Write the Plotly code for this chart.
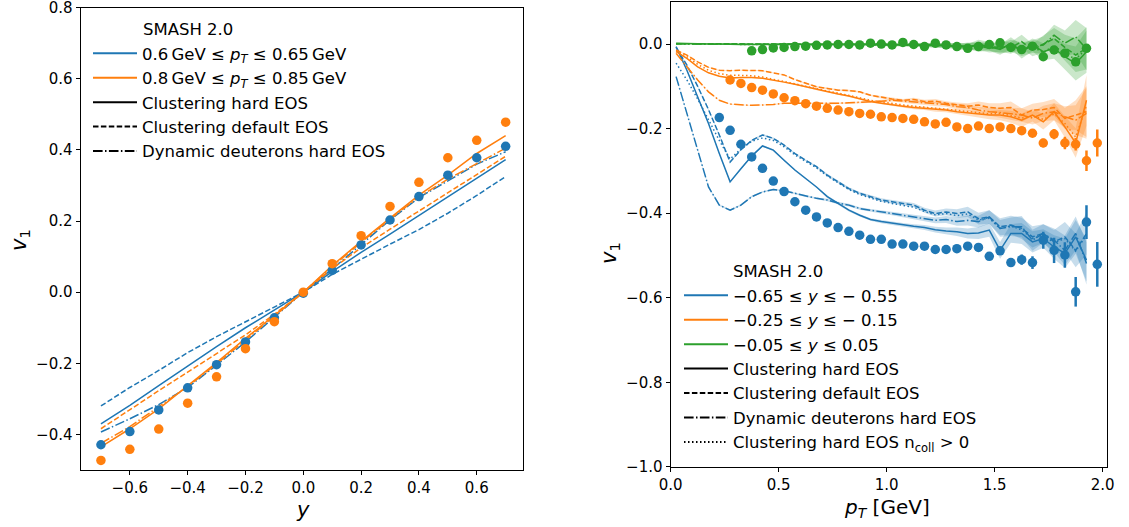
import plotly.graph_objects as go

W, H = 1129, 527
BLUE, ORANGE, GREEN = "#1f77b4", "#ff7f0e", "#2ca02c"
FONT = "DejaVu Sans"

# ---------------- Left panel data: v1 vs rapidity y ----------------
y_cat = [-0.7, -0.6, -0.5, -0.4, -0.3, -0.2, -0.1, 0.0, 0.1, 0.2, 0.3, 0.4, 0.5, 0.6, 0.7]
left_blue_pts = [-0.429, -0.392, -0.331, -0.269, -0.204, -0.140, -0.072, -0.003, 0.061, 0.133, 0.203, 0.269, 0.329, 0.378, 0.410]
left_orange_pts = [-0.473, -0.442, -0.385, -0.312, -0.238, -0.159, -0.083, 0.0, 0.080, 0.159, 0.241, 0.309, 0.378, 0.427, 0.478]
left_blue_solid = [-0.370, -0.318, -0.263, -0.207, -0.153, -0.100, -0.050, 0.0, 0.058, 0.112, 0.163, 0.215, 0.267, 0.320, 0.373]
left_blue_dashed = [-0.320, -0.268, -0.220, -0.170, -0.125, -0.083, -0.042, 0.0, 0.050, 0.093, 0.135, 0.176, 0.222, 0.272, 0.325]
left_blue_dashdot = [-0.393, -0.356, -0.316, -0.268, -0.205, -0.140, -0.070, 0.0, 0.065, 0.135, 0.203, 0.266, 0.312, 0.360, 0.395]
left_orange_solid = [-0.435, -0.384, -0.328, -0.263, -0.198, -0.130, -0.064, 0.0, 0.075, 0.143, 0.208, 0.273, 0.329, 0.390, 0.440]
left_orange_dashed = [-0.384, -0.330, -0.277, -0.225, -0.172, -0.120, -0.062, 0.0, 0.066, 0.125, 0.177, 0.228, 0.278, 0.330, 0.382]
left_orange_dashdot = [-0.425, -0.378, -0.322, -0.265, -0.202, -0.135, -0.068, 0.0, 0.072, 0.140, 0.205, 0.268, 0.318, 0.362, 0.405]

# ---------------- Right panel data: v1 vs pT ----------------
pt_grid = [0.025, 0.075, 0.125, 0.175, 0.225, 0.275, 0.325, 0.375, 0.425, 0.475,
           0.525, 0.575, 0.625, 0.675, 0.725, 0.775, 0.825, 0.875, 0.925, 0.975,
           1.025, 1.075, 1.125, 1.175, 1.225, 1.275, 1.325, 1.375, 1.425, 1.475,
           1.525, 1.575, 1.625, 1.675, 1.725, 1.775, 1.825, 1.875, 1.925]

blue_solid = [-0.006, -0.062, -0.125, -0.188, -0.259, -0.326, -0.295, -0.265, -0.241, -0.251,
              -0.275, -0.298, -0.318, -0.338, -0.361, -0.377, -0.393, -0.405, -0.415, -0.420,
              -0.424, -0.428, -0.431, -0.434, -0.439, -0.442, -0.444, -0.448, -0.447, -0.440,
              -0.488, -0.448, -0.448, -0.468, -0.460, -0.480, -0.495, -0.456, -0.511]
blue_dashed = [-0.008, -0.050, -0.100, -0.155, -0.215, -0.279, -0.250, -0.228, -0.215, -0.223,
               -0.239, -0.259, -0.275, -0.290, -0.310, -0.326, -0.342, -0.353, -0.361, -0.369,
               -0.373, -0.377, -0.381, -0.393, -0.401, -0.397, -0.401, -0.397, -0.413, -0.409,
               -0.432, -0.428, -0.436, -0.456, -0.448, -0.468, -0.456, -0.488, -0.448]
blue_dashdot = [-0.077, -0.164, -0.251, -0.338, -0.381, -0.393, -0.381, -0.361, -0.350, -0.344,
                -0.347, -0.353, -0.360, -0.365, -0.369, -0.376, -0.381, -0.389, -0.393, -0.397,
                -0.401, -0.405, -0.409, -0.413, -0.417, -0.415, -0.420, -0.417, -0.420, -0.409,
                -0.436, -0.432, -0.432, -0.464, -0.448, -0.464, -0.488, -0.448, -0.519]
blue_dotted = [-0.045, -0.085, -0.130, -0.178, -0.228, -0.272, -0.248, -0.230, -0.222, -0.228,
               -0.243, -0.262, -0.278, -0.293, -0.312, -0.328, -0.344, -0.356, -0.364, -0.372,
               -0.377, -0.381, -0.386, -0.396, -0.404, -0.401, -0.406, -0.402, -0.416, -0.412,
               -0.436, -0.430, -0.440, -0.460, -0.452, -0.470, -0.460, -0.490, -0.452]

orange_solid = [-0.018, -0.034, -0.054, -0.068, -0.076, -0.080, -0.079, -0.079, -0.081, -0.085,
                -0.090, -0.095, -0.101, -0.107, -0.113, -0.118, -0.123, -0.130, -0.136, -0.140,
                -0.144, -0.147, -0.150, -0.152, -0.155, -0.156, -0.160, -0.163, -0.166, -0.168,
                -0.168, -0.172, -0.180, -0.168, -0.184, -0.160, -0.196, -0.234, -0.133]
orange_dashed = [-0.014, -0.026, -0.042, -0.055, -0.062, -0.063, -0.062, -0.062, -0.063, -0.068,
                 -0.073, -0.084, -0.093, -0.101, -0.105, -0.109, -0.110, -0.113, -0.121, -0.126,
                 -0.130, -0.133, -0.131, -0.136, -0.135, -0.140, -0.144, -0.147, -0.144, -0.150,
                 -0.152, -0.150, -0.168, -0.156, -0.155, -0.150, -0.176, -0.168, -0.160]
orange_dashdot = [-0.022, -0.054, -0.085, -0.113, -0.133, -0.142, -0.144, -0.145, -0.144, -0.143,
                  -0.140, -0.140, -0.140, -0.140, -0.141, -0.140, -0.139, -0.138, -0.137, -0.135,
                  -0.133, -0.135, -0.138, -0.140, -0.142, -0.143, -0.148, -0.150, -0.156, -0.160,
                  -0.162, -0.165, -0.168, -0.175, -0.164, -0.160, -0.172, -0.180, -0.164]
orange_dotted = [-0.016, -0.030, -0.048, -0.062, -0.070, -0.074, -0.074, -0.075, -0.078, -0.083,
                 -0.088, -0.094, -0.100, -0.106, -0.111, -0.116, -0.121, -0.127, -0.133, -0.137,
                 -0.141, -0.144, -0.147, -0.150, -0.152, -0.154, -0.157, -0.160, -0.162, -0.165,
                 -0.164, -0.170, -0.175, -0.170, -0.178, -0.165, -0.188, -0.220, -0.145]

green_solid = [0.002, 0.001, 0.0, 0.0, 0.0, -0.001, -0.001, -0.001, -0.001, -0.001,
               -0.001, -0.001, -0.001, -0.001, -0.001, -0.001, 0.0, 0.0, -0.001, -0.001,
               -0.001, -0.002, -0.001, -0.002, -0.003, -0.002, -0.005, -0.008, 0.000, -0.006,
               -0.013, 0.002, -0.018, -0.002, -0.018, -0.010, -0.030, -0.046, -0.018]
green_dashed = [0.001, 0.001, 0.0, 0.0, 0.0, 0.0, 0.0, 0.0, 0.0, 0.0,
                0.0, 0.0, 0.0, -0.001, 0.0, 0.0, -0.001, 0.0, -0.001, 0.0,
                -0.001, -0.001, -0.002, -0.001, -0.003, -0.004, -0.003, -0.006, -0.004, -0.010,
                -0.006, -0.009, 0.006, -0.014, 0.000, 0.013, -0.008, -0.026, -0.010]
green_dashdot = [0.000, 0.000, 0.000, 0.000, -0.001, -0.001, -0.001, -0.001, -0.001, -0.001,
                 -0.001, -0.001, -0.001, -0.001, -0.001, -0.001, -0.001, -0.001, -0.002, -0.002,
                 -0.002, -0.002, -0.002, -0.003, -0.003, -0.004, -0.006, -0.004, -0.008, -0.005,
                 -0.010, -0.004, -0.012, -0.006, -0.002, 0.021, 0.002, 0.017, -0.012]
green_dotted = [0.001, 0.001, 0.0, 0.0, 0.0, 0.0, -0.001, -0.001, -0.001, 0.0,
                -0.001, -0.001, 0.0, -0.001, -0.001, 0.0, -0.001, -0.001, -0.001, 0.0,
                -0.002, -0.001, -0.002, -0.003, -0.002, -0.004, -0.004, -0.006, -0.003, -0.008,
                -0.010, -0.004, -0.014, -0.006, -0.020, -0.004, -0.024, -0.035, -0.012]

band_blue = [0.002, 0.002, 0.002, 0.002, 0.002, 0.002, 0.002, 0.002, 0.002, 0.002,
             0.002, 0.002, 0.002, 0.002, 0.003, 0.003, 0.003, 0.003, 0.003, 0.004,
             0.004, 0.005, 0.005, 0.006, 0.007, 0.008, 0.010, 0.012, 0.014, 0.016,
             0.020, 0.022, 0.025, 0.025, 0.022, 0.028, 0.035, 0.040, 0.050]
band_orange = [0.001, 0.001, 0.001, 0.001, 0.001, 0.001, 0.001, 0.001, 0.001, 0.001,
               0.001, 0.001, 0.002, 0.002, 0.002, 0.002, 0.002, 0.002, 0.002, 0.003,
               0.003, 0.003, 0.004, 0.004, 0.005, 0.005, 0.006, 0.007, 0.008, 0.010,
               0.012, 0.014, 0.016, 0.015, 0.018, 0.020, 0.025, 0.035, 0.060]
band_green = [0.001, 0.001, 0.001, 0.001, 0.001, 0.001, 0.001, 0.001, 0.001, 0.001,
              0.001, 0.001, 0.002, 0.002, 0.002, 0.002, 0.002, 0.002, 0.002, 0.003,
              0.003, 0.003, 0.004, 0.004, 0.005, 0.005, 0.006, 0.008, 0.010, 0.010,
              0.012, 0.014, 0.016, 0.015, 0.020, 0.025, 0.030, 0.040, 0.050]

pt_blue_pts = [0.225, 0.275, 0.325, 0.375, 0.425, 0.475, 0.525, 0.575, 0.625, 0.675,
               0.725, 0.775, 0.825, 0.875, 0.925, 0.975, 1.025, 1.075, 1.125, 1.175,
               1.225, 1.275, 1.325, 1.375, 1.425, 1.475, 1.525, 1.575, 1.625, 1.675,
               1.725, 1.775, 1.825, 1.875, 1.925, 1.975]
blue_pts = [-0.174, -0.204, -0.237, -0.267, -0.294, -0.324, -0.349, -0.373, -0.393, -0.409,
            -0.423, -0.434, -0.443, -0.452, -0.462, -0.462, -0.473, -0.473, -0.478, -0.478,
            -0.486, -0.486, -0.484, -0.478, -0.481, -0.502, -0.489, -0.517, -0.510, -0.517,
            -0.464, -0.488, -0.499, -0.586, -0.421, -0.521]
blue_pts_err = [0, 0, 0, 0, 0, 0, 0, 0, 0, 0,
                0, 0, 0, 0, 0, 0, 0, 0, 0, 0,
                0, 0, 0, 0, 0, 0.004, 0.005, 0.006, 0.012, 0.015,
                0.020, 0.030, 0.030, 0.035, 0.040, 0.053]

pt_orange_pts = [0.275, 0.325, 0.375, 0.425, 0.475, 0.525, 0.575, 0.625, 0.675, 0.725,
                 0.775, 0.825, 0.875, 0.925, 0.975, 1.025, 1.075, 1.125, 1.175, 1.225,
                 1.275, 1.325, 1.375, 1.425, 1.475, 1.525, 1.575, 1.625, 1.675, 1.725,
                 1.775, 1.825, 1.875, 1.925, 1.975]
orange_pts = [-0.085, -0.093, -0.103, -0.109, -0.118, -0.127, -0.134, -0.141, -0.147, -0.152,
              -0.156, -0.160, -0.164, -0.166, -0.172, -0.174, -0.176, -0.178, -0.184, -0.189,
              -0.185, -0.196, -0.200, -0.194, -0.200, -0.196, -0.200, -0.205, -0.211, -0.234,
              -0.213, -0.234, -0.237, -0.276, -0.234]
orange_pts_err = [0, 0, 0, 0, 0, 0, 0, 0, 0, 0,
                  0, 0, 0, 0, 0, 0, 0, 0, 0, 0,
                  0, 0, 0, 0, 0, 0, 0, 0.004, 0.006, 0.010,
                  0.012, 0.015, 0.015, 0.024, 0.032]

pt_green_pts = [0.375, 0.425, 0.475, 0.525, 0.575, 0.625, 0.675, 0.725, 0.775, 0.825,
                0.875, 0.925, 0.975, 1.025, 1.075, 1.125, 1.175, 1.225, 1.275, 1.325,
                1.375, 1.425, 1.475, 1.525, 1.575, 1.625, 1.675, 1.725, 1.775, 1.825,
                1.875, 1.925]
green_pts = [-0.016, -0.013, -0.009, -0.008, -0.006, -0.005, -0.003, -0.002, -0.001, -0.001,
             -0.002, 0.002, 0.000, -0.002, 0.004, -0.001, -0.006, 0.002, -0.002, -0.006,
             -0.010, -0.006, -0.001, 0.003, -0.008, -0.013, -0.005, -0.030, -0.014, -0.022,
             -0.042, -0.010]

left_legend_labels = ["0.6\u2009GeV \u2264 <i>p<sub>T</sub></i> \u2264 0.65\u2009GeV",
                      "0.8\u2009GeV \u2264 <i>p<sub>T</sub></i> \u2264 0.85\u2009GeV"]
right_legend_labels = ["\u22120.65 \u2264 <i>y</i> \u2264 \u2212 0.55",
                       "\u22120.25 \u2264 <i>y</i> \u2264 \u2212 0.15",
                       "\u22120.05 \u2264 <i>y</i> \u2264 0.05"]
style_labels = ["Clustering hard EOS", "Clustering default EOS",
                "Dynamic deuterons hard EOS", "Clustering hard EOS n<sub>coll</sub> > 0"]

DASHES = {"solid": "solid", "dashed": "5.5px,2.4px", "dashdot": "9.6px,2.4px,1.5px,2.4px",
          "dotted": "1.5px,2.5px"}
LW = 1.5
LEG_FS = 16.5


def rgba(hexc, a):
    h = hexc.lstrip("#")
    return "rgba(%d,%d,%d,%s)" % (int(h[0:2], 16), int(h[2:4], 16), int(h[4:6], 16), a)


fig = go.Figure()

# ---- left panel lines ----
for vals, col, dash in [(left_blue_solid, BLUE, "solid"), (left_blue_dashed, BLUE, "dashed"),
                        (left_blue_dashdot, BLUE, "dashdot"), (left_orange_solid, ORANGE, "solid"),
                        (left_orange_dashed, ORANGE, "dashed"), (left_orange_dashdot, ORANGE, "dashdot")]:
    fig.add_trace(go.Scatter(x=y_cat, y=vals, mode="lines", xaxis="x", yaxis="y",
                             line=dict(color=col, width=LW, dash=DASHES[dash]), showlegend=False))
for vals, col in [(left_blue_pts, BLUE), (left_orange_pts, ORANGE)]:
    fig.add_trace(go.Scatter(x=y_cat, y=vals, mode="markers", xaxis="x", yaxis="y",
                             marker=dict(color=col, size=9.5), showlegend=False))

# ---- right panel bands + lines ----
groups = [
    (BLUE, band_blue, [(blue_solid, "solid"), (blue_dashed, "dashed"), (blue_dashdot, "dashdot"), (blue_dotted, "dotted")]),
    (ORANGE, band_orange, [(orange_solid, "solid"), (orange_dashed, "dashed"), (orange_dashdot, "dashdot"), (orange_dotted, "dotted")]),
    (GREEN, band_green, [(green_solid, "solid"), (green_dashed, "dashed"), (green_dashdot, "dashdot"), (green_dotted, "dotted")]),
]
for col, band, curves in groups:
    for vals, dash in curves:
        if dash != "dotted":
            up = [v + e for v, e in zip(vals, band)]
            lo = [v - e for v, e in zip(vals, band)]
            fig.add_trace(go.Scatter(x=pt_grid + pt_grid[::-1], y=up + lo[::-1], mode="lines",
                                     fill="toself", fillcolor=rgba(col, 0.25), line=dict(width=0),
                                     xaxis="x2", yaxis="y2", showlegend=False, hoverinfo="skip"))
    for vals, dash in curves:
        fig.add_trace(go.Scatter(x=pt_grid, y=vals, mode="lines", xaxis="x2", yaxis="y2",
                                 line=dict(color=col, width=LW, dash=DASHES[dash]), showlegend=False))

for xs, vals, errs, col in [(pt_blue_pts, blue_pts, blue_pts_err, BLUE),
                            (pt_orange_pts, orange_pts, orange_pts_err, ORANGE),
                            (pt_green_pts, green_pts, None, GREEN)]:
    ed = dict(type="data", array=errs, visible=True, color=col, thickness=2.5, width=0) if errs else None
    fig.add_trace(go.Scatter(x=xs, y=vals, mode="markers", xaxis="x2", yaxis="y2",
                             marker=dict(color=col, size=9.5), error_y=ed, showlegend=False))

# ---- legend entries ----
k = 0
for lab, col in zip(left_legend_labels, [BLUE, ORANGE]):
    k += 1
    fig.add_trace(go.Scatter(x=[None], y=[None], mode="lines", name=lab, legend="legend", legendgroup="g%d" % k,
                             line=dict(color=col, width=2), xaxis="x", yaxis="y"))
for lab, dash in zip(style_labels[:3], ["solid", "dashed", "dashdot"]):
    k += 1
    fig.add_trace(go.Scatter(x=[None], y=[None], mode="lines", name=lab, legend="legend", legendgroup="g%d" % k,
                             line=dict(color="black", width=2, dash=DASHES[dash]), xaxis="x", yaxis="y"))
for lab, col in zip(right_legend_labels, [BLUE, ORANGE, GREEN]):
    k += 1
    fig.add_trace(go.Scatter(x=[None], y=[None], mode="lines", name=lab, legend="legend2", legendgroup="g%d" % k,
                             line=dict(color=col, width=2), xaxis="x2", yaxis="y2"))
for lab, dash in zip(style_labels, ["solid", "dashed", "dashdot", "dotted"]):
    k += 1
    fig.add_trace(go.Scatter(x=[None], y=[None], mode="lines", name=lab, legend="legend2", legendgroup="g%d" % k,
                             line=dict(color="black", width=2, dash=DASHES[dash]), xaxis="x2", yaxis="y2"))


def px(x):
    return x / W


def py(y):
    return 1 - y / H


axis_common = dict(showline=True, mirror=True, linecolor="black", linewidth=1.3, ticks="outside",
                   ticklen=4, tickwidth=1, tickcolor="black", showgrid=False, zeroline=False,
                   automargin=False, ticklabeloverflow="allow",
                   tickfont=dict(family=FONT, size=15, color="black"), tickformat=".1f")

legend_common = dict(font=dict(family=FONT, size=LEG_FS, color="black"), bgcolor="rgba(0,0,0,0)",
                     borderwidth=0, tracegroupgap=0, itemwidth=44, xanchor="left", yanchor="top",
                     itemclick=False, itemdoubleclick=False)


def label(text, x, y, size, angle=0):
    return dict(text=text, x=px(x), y=py(y), xref="paper", yref="paper", xanchor="center",
                yanchor="middle", showarrow=False, textangle=angle,
                font=dict(family=FONT, size=size, color="black"))


fig.update_layout(
    template="none",
    width=W, height=H, margin=dict(l=0, r=0, t=0, b=0, autoexpand=False),
    paper_bgcolor="white", plot_bgcolor="white",
    font=dict(family=FONT, color="black"),
    xaxis=dict(domain=[px(80.7), px(523)], range=[-0.77, 0.76], tickvals=[-0.6, -0.4, -0.2, 0.0, 0.2, 0.4, 0.6],
               anchor="y", **axis_common),
    yaxis=dict(domain=[py(470), py(7.5)], range=[-0.5, 0.8005], tickvals=[-0.4, -0.2, 0.0, 0.2, 0.4, 0.6, 0.8],
               anchor="x", **axis_common),
    xaxis2=dict(domain=[px(670.7), px(1107)], range=[0, 2.02], tickvals=[0.0, 0.5, 1.0, 1.5, 2.0],
                anchor="y2", **axis_common),
    yaxis2=dict(domain=[py(467), py(1.8)], range=[-1.0005, 0.1], tickvals=[-1.0, -0.8, -0.6, -0.4, -0.2, 0.0],
                anchor="x2", **axis_common),
    legend=dict(x=px(88), y=py(36), **legend_common),
    legend2=dict(x=px(679), y=py(278), **legend_common),
    annotations=[
        dict(text="SMASH 2.0", x=px(141), y=py(30), xref="paper", yref="paper", xanchor="left",
             yanchor="middle", showarrow=False, font=dict(family=FONT, size=LEG_FS, color="black")),
        dict(text="SMASH 2.0", x=px(731), y=py(271), xref="paper", yref="paper", xanchor="left",
             yanchor="middle", showarrow=False, font=dict(family=FONT, size=LEG_FS, color="black")),
        label("<i>y</i>", 303, 510, 21),
        label("<i>p</i><sub><i>T</i></sub> [GeV]", 887, 508, 20),
        label("<i>v</i><sub>1</sub>", 20, 240, 21, -90),
        label("<i>v</i><sub>1</sub>", 610, 253, 21, -90),
    ],
)

fig.write_html("out.html")
